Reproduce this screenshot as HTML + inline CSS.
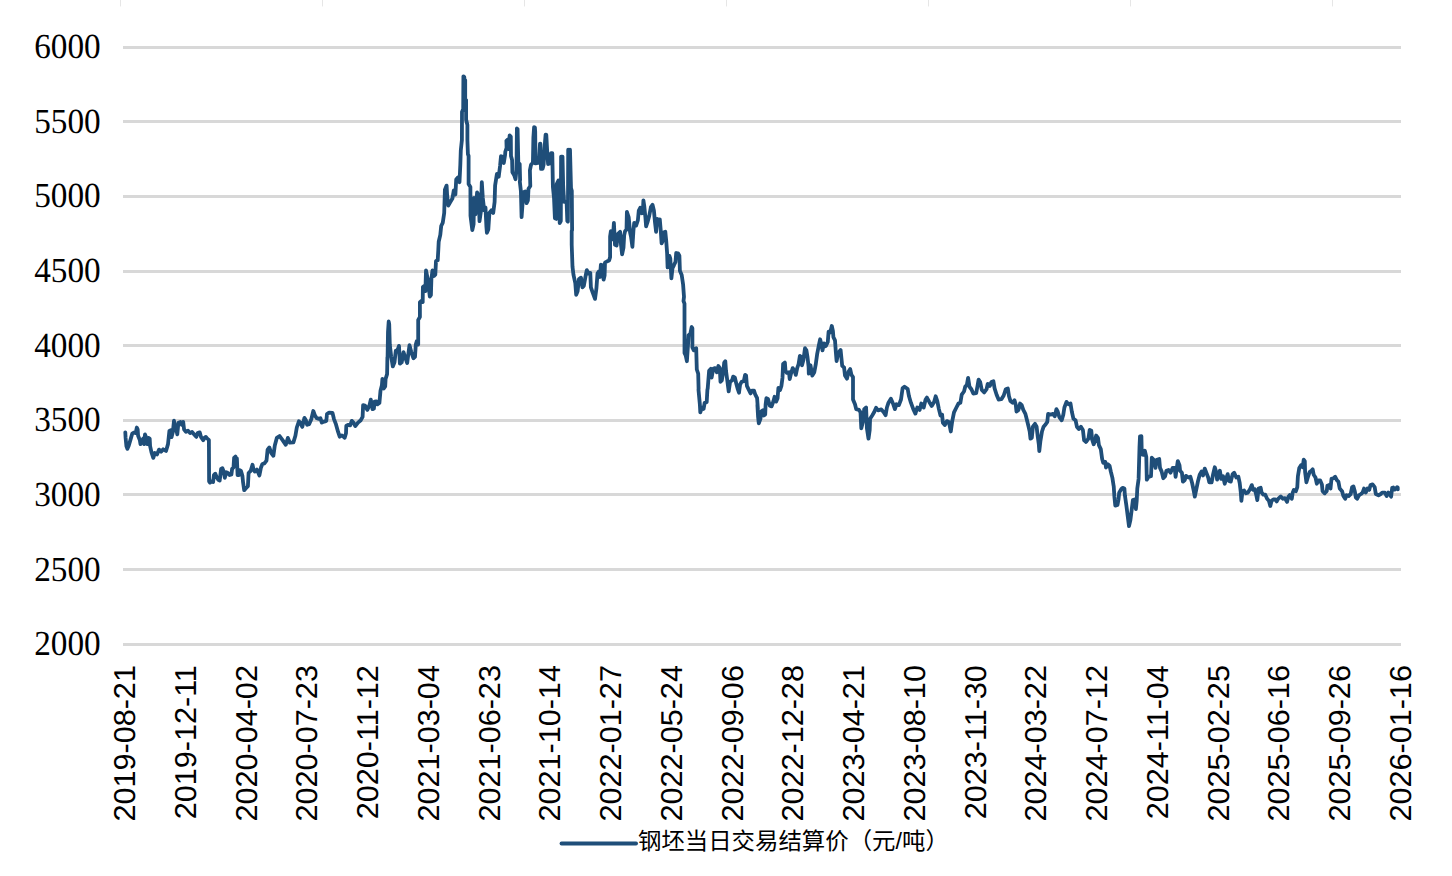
<!DOCTYPE html>
<html lang="zh"><head><meta charset="utf-8"><title>钢坯当日交易结算价（元/吨）</title>
<style>
html,body{margin:0;padding:0;background:#fff;}
body{width:1452px;height:876px;overflow:hidden;}
svg{display:block;}
.yl{text-rendering:geometricPrecision;font-family:"Liberation Serif",serif;font-size:35.2px;fill:#000;text-anchor:end;}
.xl{text-rendering:geometricPrecision;font-family:"Liberation Sans",sans-serif;font-size:30.2px;fill:#000;text-anchor:end;}
</style></head><body>
<svg width="1452" height="876" viewBox="0 0 1452 876">
<rect width="1452" height="876" fill="#ffffff"/>
<g fill="#e6e6e6" shape-rendering="crispEdges">
<rect x="120" y="0" width="1" height="6"/>
<rect x="322" y="0" width="1" height="6"/>
<rect x="524" y="0" width="1" height="6"/>
<rect x="726" y="0" width="1" height="6"/>
<rect x="928" y="0" width="1" height="6"/>
<rect x="1130" y="0" width="1" height="6"/>
<rect x="1332" y="0" width="1" height="6"/>
</g>
<g fill="#e6e6e6" fill-opacity="0.45" shape-rendering="crispEdges">
<rect x="120" y="6" width="1" height="1"/>
<rect x="322" y="6" width="1" height="1"/>
<rect x="524" y="6" width="1" height="1"/>
<rect x="726" y="6" width="1" height="1"/>
<rect x="928" y="6" width="1" height="1"/>
<rect x="1130" y="6" width="1" height="1"/>
<rect x="1332" y="6" width="1" height="1"/>
</g>
<g fill="#d8d8d8" shape-rendering="crispEdges">
<rect x="123" y="46" width="1278" height="3"/>
<rect x="123" y="120" width="1278" height="3"/>
<rect x="123" y="195" width="1278" height="3"/>
<rect x="123" y="270" width="1278" height="3"/>
<rect x="123" y="344" width="1278" height="3"/>
<rect x="123" y="419" width="1278" height="3"/>
<rect x="123" y="493" width="1278" height="3"/>
<rect x="123" y="568" width="1278" height="3"/>
<rect x="123" y="643" width="1278" height="3"/>
</g>
<text class="yl" transform="translate(100.70,57.90) scale(0.9450,1)">6000</text>
<text class="yl" transform="translate(100.70,132.90) scale(0.9450,1)">5500</text>
<text class="yl" transform="translate(100.70,206.90) scale(0.9450,1)">5000</text>
<text class="yl" transform="translate(100.70,281.90) scale(0.9450,1)">4500</text>
<text class="yl" transform="translate(100.70,356.90) scale(0.9450,1)">4000</text>
<text class="yl" transform="translate(100.70,430.90) scale(0.9450,1)">3500</text>
<text class="yl" transform="translate(100.70,505.90) scale(0.9450,1)">3000</text>
<text class="yl" transform="translate(100.70,580.90) scale(0.9450,1)">2500</text>
<text class="yl" transform="translate(100.70,654.90) scale(0.9450,1)">2000</text>
<text class="xl" transform="translate(135.15,665.1) rotate(-90) scale(1.0135,1)">2019-08-21</text>
<text class="xl" transform="translate(195.90,665.1) rotate(-90) scale(1.0135,1)">2019-12-11</text>
<text class="xl" transform="translate(256.64,665.1) rotate(-90) scale(1.0135,1)">2020-04-02</text>
<text class="xl" transform="translate(317.38,665.1) rotate(-90) scale(1.0135,1)">2020-07-23</text>
<text class="xl" transform="translate(378.13,665.1) rotate(-90) scale(1.0135,1)">2020-11-12</text>
<text class="xl" transform="translate(438.88,665.1) rotate(-90) scale(1.0135,1)">2021-03-04</text>
<text class="xl" transform="translate(499.62,665.1) rotate(-90) scale(1.0135,1)">2021-06-23</text>
<text class="xl" transform="translate(560.37,665.1) rotate(-90) scale(1.0135,1)">2021-10-14</text>
<text class="xl" transform="translate(621.11,665.1) rotate(-90) scale(1.0135,1)">2022-01-27</text>
<text class="xl" transform="translate(681.85,665.1) rotate(-90) scale(1.0135,1)">2022-05-24</text>
<text class="xl" transform="translate(742.60,665.1) rotate(-90) scale(1.0135,1)">2022-09-06</text>
<text class="xl" transform="translate(803.34,665.1) rotate(-90) scale(1.0135,1)">2022-12-28</text>
<text class="xl" transform="translate(864.09,665.1) rotate(-90) scale(1.0135,1)">2023-04-21</text>
<text class="xl" transform="translate(924.83,665.1) rotate(-90) scale(1.0135,1)">2023-08-10</text>
<text class="xl" transform="translate(985.58,665.1) rotate(-90) scale(1.0135,1)">2023-11-30</text>
<text class="xl" transform="translate(1046.33,665.1) rotate(-90) scale(1.0135,1)">2024-03-22</text>
<text class="xl" transform="translate(1107.07,665.1) rotate(-90) scale(1.0135,1)">2024-07-12</text>
<text class="xl" transform="translate(1167.82,665.1) rotate(-90) scale(1.0135,1)">2024-11-04</text>
<text class="xl" transform="translate(1228.56,665.1) rotate(-90) scale(1.0135,1)">2025-02-25</text>
<text class="xl" transform="translate(1289.31,665.1) rotate(-90) scale(1.0135,1)">2025-06-16</text>
<text class="xl" transform="translate(1350.05,665.1) rotate(-90) scale(1.0135,1)">2025-09-26</text>
<text class="xl" transform="translate(1410.80,665.1) rotate(-90) scale(1.0135,1)">2026-01-16</text>
<path d="M125.3 432.4 L125.6 437.9 L126.4 446.1 L127.4 448.9 L128.8 445.5 L130.8 438.6 L132.2 433.7 L134.3 432.4 L135.7 433.1 L136.8 427.5 L137.7 429.6 L138.1 435.8 L139.8 439.9 L140.5 444.1 L141.9 441.3 L143.2 438.6 L144.2 444.1 L145.0 434.4 L146.4 437.9 L147.4 444.1 L148.5 437.9 L149.7 438.6 L150.1 446.1 L151.5 452.3 L153.3 457.9 L154.9 453.0 L157.0 454.4 L159.1 449.6 L161.1 451.7 L163.2 449.3 L166.0 451.0 L168.0 444.1 L169.4 431.0 L170.8 430.3 L171.5 437.2 L172.9 431.7 L174.0 420.7 L174.9 426.2 L176.3 429.6 L177.3 434.4 L178.4 422.7 L180.4 422.0 L181.8 424.8 L183.2 422.0 L184.1 429.6 L185.9 431.7 L188.0 430.6 L190.1 433.1 L192.1 432.0 L194.2 434.4 L196.3 436.9 L197.6 433.1 L199.7 432.4 L201.1 437.2 L203.2 440.2 L204.5 437.9 L205.9 436.9 L207.3 438.6 L208.9 439.9 L209.1 481.3 L210.0 482.6 L211.4 481.3 L213.1 482.0 L213.9 475.1 L215.3 473.7 L216.7 477.1 L218.3 479.9 L219.7 480.6 L221.1 468.9 L222.4 468.2 L223.8 471.6 L224.8 477.8 L226.3 472.3 L227.9 473.0 L229.6 475.1 L231.4 474.4 L232.1 468.9 L233.5 467.5 L234.1 457.9 L235.5 456.5 L236.2 464.7 L236.9 458.5 L237.6 475.1 L239.0 475.1 L239.7 470.2 L241.0 470.9 L242.4 475.8 L243.1 482.6 L244.2 490.2 L245.9 488.2 L247.9 486.1 L248.6 473.0 L250.7 470.9 L252.5 464.7 L253.4 468.9 L254.8 471.6 L256.9 469.6 L259.4 475.5 L261.0 467.5 L262.4 464.0 L264.4 463.4 L266.5 460.6 L267.6 449.6 L269.3 447.5 L271.3 453.0 L273.4 455.8 L274.8 445.5 L276.8 437.9 L279.6 436.1 L282.4 439.9 L285.8 444.8 L287.9 437.9 L289.9 442.7 L293.4 442.4 L295.4 435.8 L296.8 427.5 L298.9 421.3 L300.3 422.7 L302.3 426.9 L304.4 417.9 L305.8 420.0 L307.1 424.8 L309.2 424.1 L311.3 419.3 L313.3 411.0 L314.9 415.4 L316.7 418.2 L318.8 418.8 L320.4 418.2 L321.8 422.6 L324.3 421.6 L326.3 420.9 L327.0 414.0 L329.1 412.6 L332.5 412.9 L333.9 418.8 L336.0 424.4 L338.1 431.9 L339.7 436.7 L341.9 435.4 L344.7 437.7 L346.0 433.3 L346.3 425.7 L348.4 424.8 L350.2 425.3 L351.8 420.9 L353.5 422.6 L355.3 426.1 L358.0 422.6 L360.8 420.2 L362.6 416.8 L363.1 405.1 L364.9 405.5 L367.3 409.9 L369.5 405.1 L370.8 399.6 L372.5 409.2 L373.9 408.5 L374.6 401.6 L376.3 401.3 L377.3 404.4 L379.4 403.0 L380.5 390.6 L381.9 385.1 L382.4 378.9 L383.8 388.5 L385.2 386.5 L385.6 378.9 L387.1 374.1 L387.4 357.5 L387.6 356.8 L388.0 332.2 L388.7 321.5 L389.2 324.0 L389.8 344.5 L391.2 356.8 L392.8 366.4 L394.5 362.3 L395.8 350.7 L397.2 351.4 L399.0 345.9 L399.9 363.7 L401.7 362.3 L403.5 352.1 L405.4 358.2 L407.2 363.0 L408.6 352.1 L409.5 345.2 L411.3 352.1 L413.4 358.2 L415.0 356.8 L415.8 344.5 L416.8 341.1 L418.2 344.5 L418.2 319.9 L419.9 317.1 L419.9 302.1 L421.6 300.7 L422.7 302.1 L422.9 287.0 L424.6 285.6 L425.4 291.1 L426.0 270.5 L427.7 278.8 L429.8 296.6 L430.9 295.2 L431.4 278.8 L432.5 270.5 L433.9 276.0 L435.3 274.7 L436.0 261.0 L437.7 260.3 L438.3 250.0 L438.7 241.8 L440.3 234.9 L441.2 226.0 L442.8 222.6 L444.2 213.0 L444.9 189.7 L446.6 185.6 L447.2 196.6 L448.3 205.5 L450.3 202.1 L452.4 198.6 L453.8 190.4 L455.4 194.5 L456.2 179.5 L457.9 177.4 L459.5 182.2 L460.3 165.1 L460.8 150.4 L461.9 140.0 L462.0 112.0 L463.2 109.0 L463.4 76.3 L464.3 77.0 L464.4 79.5 L465.2 80.0 L465.2 99.0 L466.1 100.0 L466.1 119.5 L467.4 125.0 L467.4 140.0 L467.9 154.0 L468.6 156.0 L468.6 184.0 L470.4 187.0 L470.5 215.8 L472.3 230.1 L473.6 224.0 L474.0 197.9 L475.4 214.4 L477.1 192.5 L478.7 195.2 L479.5 221.2 L480.9 211.6 L481.8 182.2 L482.8 197.9 L484.2 210.3 L485.5 207.5 L486.4 226.7 L486.9 232.9 L488.3 229.5 L489.4 213.0 L491.4 210.3 L493.2 213.0 L494.6 202.1 L495.1 185.6 L496.9 174.0 L498.7 176.7 L500.1 165.8 L501.0 156.2 L502.8 156.8 L503.8 163.0 L505.1 154.8 L505.3 151.8 L506.6 147.7 L506.4 140.8 L507.7 139.5 L508.3 149.0 L509.7 135.3 L510.8 136.7 L511.0 155.9 L512.1 160.0 L512.4 172.3 L514.2 175.1 L515.5 179.2 L516.5 169.6 L516.9 128.5 L517.6 129.2 L518.3 162.7 L519.7 164.1 L520.1 180.0 L519.8 181.5 L520.9 191.1 L521.6 217.1 L523.4 192.2 L525.2 191.5 L526.6 203.2 L527.9 200.4 L528.5 188.8 L530.3 186.0 L529.9 170.3 L531.0 164.8 L532.9 162.7 L533.4 137.4 L534.1 127.1 L534.9 127.5 L535.2 131.9 L535.5 163.4 L538.9 162.7 L540.0 143.7 L540.4 143.7 L541.0 168.9 L542.6 168.9 L543.6 164.8 L544.5 148.4 L545.6 134.7 L546.3 134.9 L547.4 155.2 L548.1 164.1 L549.9 163.4 L551.0 153.2 L552.3 153.2 L552.9 186.7 L554.0 197.7 L554.9 218.2 L556.3 218.9 L556.7 184.0 L558.4 180.5 L559.5 205.9 L559.7 223.0 L560.8 221.0 L561.1 156.6 L562.5 156.6 L563.2 186.7 L564.1 201.8 L566.6 201.8 L567.3 221.0 L567.9 221.6 L568.2 149.7 L569.0 186.7 L570.0 149.7 L571.0 188.1 L571.8 190.8 L572.1 230.0 L571.7 231.1 L571.7 244.8 L572.5 266.7 L573.5 274.9 L575.3 283.2 L576.2 294.8 L577.6 291.4 L579.0 279.0 L581.0 277.7 L582.4 287.3 L583.8 285.9 L585.8 274.9 L586.8 270.1 L588.6 273.6 L590.3 272.9 L590.9 287.3 L592.7 292.7 L595.0 298.9 L596.4 288.6 L597.5 273.6 L598.8 271.5 L599.9 277.0 L600.9 264.7 L602.7 265.3 L603.6 279.7 L604.6 275.6 L605.0 262.6 L606.8 261.5 L609.1 260.5 L610.1 257.1 L610.1 236.6 L610.9 231.1 L612.3 236.6 L612.8 239.3 L613.9 222.9 L615.0 244.8 L616.6 245.5 L618.0 233.8 L620.1 231.8 L621.0 244.8 L622.1 254.4 L623.5 247.5 L624.2 235.2 L625.1 231.1 L626.5 229.7 L626.9 211.9 L628.7 217.4 L630.1 232.5 L631.0 236.6 L632.4 246.8 L633.4 231.1 L634.2 222.9 L636.1 225.6 L637.9 220.1 L638.8 210.5 L640.2 207.8 L642.0 213.3 L642.9 210.5 L643.4 200.3 L644.3 206.4 L645.4 217.4 L646.1 226.3 L647.5 222.2 L649.2 216.0 L650.9 207.1 L652.5 204.8 L653.9 210.5 L655.0 222.2 L656.1 231.8 L657.1 218.8 L658.4 222.2 L659.8 219.5 L660.8 231.1 L661.6 243.4 L662.9 240.7 L663.5 232.5 L665.3 231.8 L666.2 240.7 L667.1 253.0 L667.6 267.4 L668.7 266.7 L669.4 255.8 L670.3 258.5 L671.4 278.4 L672.5 268.1 L673.9 265.3 L675.5 261.9 L676.2 253.0 L678.0 253.3 L679.4 255.8 L679.9 270.8 L681.7 274.9 L683.1 284.5 L684.0 296.8 L683.5 301.0 L684.5 303.7 L684.5 353.0 L685.8 355.8 L686.9 361.2 L688.0 344.8 L688.6 335.2 L690.3 333.8 L691.7 327.0 L692.4 328.4 L692.4 347.5 L693.8 350.3 L696.2 348.2 L696.8 369.5 L698.2 373.6 L698.6 388.6 L698.5 389.7 L699.9 404.8 L700.3 412.3 L701.9 407.5 L703.6 408.9 L704.7 402.7 L706.7 402.1 L707.4 389.7 L707.7 388.6 L709.1 370.8 L710.9 368.8 L711.6 377.7 L713.2 368.8 L715.0 368.1 L716.8 372.2 L718.4 366.0 L719.8 368.1 L720.5 381.8 L721.8 380.4 L723.2 372.2 L724.2 362.6 L725.3 361.2 L726.0 370.8 L727.3 380.4 L728.7 391.4 L730.1 381.8 L732.1 380.4 L733.2 376.6 L734.9 377.7 L736.2 383.2 L737.6 388.6 L739.0 392.7 L740.1 384.5 L741.7 381.8 L743.8 381.1 L745.1 374.9 L746.1 375.6 L746.9 385.9 L748.6 389.3 L750.6 393.4 L752.0 390.7 L754.0 390.7 L755.1 394.1 L757.1 398.2 L757.9 409.2 L757.4 404.8 L758.1 417.1 L758.8 423.3 L760.5 418.5 L761.1 411.6 L762.9 410.3 L763.8 415.5 L765.2 414.4 L765.6 404.8 L766.4 398.2 L768.0 398.9 L769.8 405.8 L771.6 406.4 L773.5 401.0 L774.6 396.8 L776.2 401.6 L777.6 398.2 L778.4 387.9 L780.1 390.0 L781.4 385.9 L782.5 377.7 L783.1 364.0 L784.9 362.6 L785.5 370.8 L786.9 372.9 L789.0 372.2 L789.7 379.0 L791.0 373.6 L792.7 368.1 L794.5 370.8 L795.8 374.9 L797.2 368.1 L798.6 364.0 L799.9 355.8 L801.3 357.1 L802.0 365.3 L803.4 359.9 L805.0 348.2 L806.4 350.3 L807.5 357.1 L808.6 366.7 L808.8 373.6 L810.5 365.3 L812.3 375.6 L814.3 372.2 L815.7 364.7 L817.1 354.4 L818.7 346.2 L820.1 339.3 L821.2 343.4 L822.5 350.3 L823.9 343.4 L823.8 346.8 L825.9 346.0 L827.8 342.0 L828.6 331.6 L830.2 332.4 L831.8 326.0 L832.9 330.8 L833.4 337.2 L835.0 340.4 L835.8 351.6 L836.6 361.1 L838.2 353.2 L840.6 350.0 L841.4 357.9 L842.2 365.9 L844.1 367.5 L845.0 375.5 L847.0 378.7 L848.6 371.5 L850.2 369.1 L851.4 374.7 L853.0 377.1 L853.0 399.5 L855.0 404.3 L856.2 409.1 L859.0 409.9 L860.5 412.3 L861.3 428.3 L862.9 421.9 L864.2 409.1 L866.1 407.5 L866.9 428.3 L868.5 438.7 L869.7 429.9 L870.1 418.7 L872.2 415.5 L874.1 412.3 L876.1 407.8 L878.1 410.4 L881.3 409.4 L883.7 412.3 L885.6 415.2 L886.9 407.5 L888.5 402.7 L890.9 398.7 L893.3 404.3 L894.9 409.1 L896.5 404.3 L898.9 405.1 L901.0 399.5 L902.6 388.3 L904.5 386.7 L907.7 389.1 L909.0 396.3 L910.9 402.7 L913.3 409.1 L915.4 413.6 L917.3 407.5 L919.7 409.9 L921.3 403.5 L923.7 407.5 L925.6 399.5 L926.9 397.6 L929.3 401.9 L931.7 405.9 L934.1 401.9 L935.7 396.3 L937.3 401.1 L938.9 409.1 L940.5 415.5 L942.1 414.7 L942.9 422.7 L944.8 425.1 L946.9 421.1 L948.9 421.9 L950.8 431.5 L952.1 421.9 L954.0 412.3 L956.4 407.5 L958.5 403.5 L960.4 402.7 L961.7 394.7 L964.0 391.5 L965.2 386.7 L966.8 385.1 L968.1 377.9 L969.5 386.8 L971.4 389.2 L973.3 393.5 L976.2 393.2 L977.5 386.0 L978.6 379.6 L980.2 382.0 L981.8 390.0 L984.2 392.4 L986.6 389.2 L987.7 383.9 L989.8 386.0 L991.4 382.0 L993.4 381.2 L994.6 388.4 L996.6 394.7 L998.6 399.5 L1001.4 399.2 L1003.7 395.5 L1005.8 389.2 L1007.8 388.4 L1009.0 396.3 L1010.5 401.1 L1012.6 402.7 L1014.5 400.3 L1015.8 405.1 L1016.5 411.5 L1018.5 409.9 L1020.1 403.5 L1021.7 405.1 L1023.3 409.9 L1025.4 413.9 L1027.0 420.3 L1028.6 426.7 L1029.7 431.5 L1030.5 438.7 L1031.8 437.9 L1032.9 426.7 L1035.0 423.8 L1036.6 426.7 L1037.7 436.3 L1038.8 444.3 L1039.3 451.0 L1040.4 441.1 L1042.0 431.5 L1043.6 426.7 L1045.7 424.3 L1047.3 421.9 L1048.1 413.9 L1050.5 414.7 L1052.9 413.9 L1054.8 416.3 L1056.4 409.1 L1057.7 411.5 L1059.3 417.1 L1061.7 420.3 L1063.3 414.7 L1064.4 407.5 L1066.5 401.9 L1068.6 404.3 L1070.5 403.5 L1071.8 411.5 L1073.4 418.7 L1075.6 420.3 L1076.9 426.7 L1078.8 429.1 L1080.9 426.7 L1082.9 429.9 L1084.1 440.3 L1086.1 441.9 L1088.4 438.7 L1089.7 429.9 L1091.3 430.7 L1092.1 439.5 L1093.7 444.3 L1095.3 440.3 L1096.1 435.5 L1098.0 437.9 L1098.9 445.1 L1100.8 449.1 L1102.1 458.7 L1103.2 462.7 L1105.3 461.9 L1106.0 467.5 L1108.0 464.3 L1109.6 465.9 L1110.8 471.5 L1112.4 477.9 L1113.6 485.8 L1113.7 485.8 L1114.4 496.7 L1115.3 505.6 L1117.5 504.9 L1118.5 499.5 L1119.2 492.6 L1121.2 489.2 L1122.6 487.8 L1124.4 488.5 L1124.9 495.3 L1126.3 504.9 L1127.7 515.9 L1129.0 526.2 L1130.4 520.0 L1131.8 509.0 L1132.9 500.1 L1134.5 499.5 L1135.9 509.0 L1136.7 500.8 L1137.3 488.5 L1138.6 478.9 L1139.5 447.4 L1140.0 436.4 L1141.4 436.2 L1141.8 454.2 L1143.6 454.9 L1144.9 450.8 L1146.3 457.0 L1146.8 479.6 L1148.6 476.8 L1151.0 476.2 L1151.8 457.7 L1153.7 459.7 L1155.5 467.9 L1156.8 459.7 L1159.2 459.0 L1160.0 467.9 L1161.6 471.4 L1163.3 478.2 L1165.1 476.2 L1166.4 470.7 L1168.5 470.0 L1170.5 472.7 L1172.6 467.9 L1174.7 467.9 L1175.6 476.8 L1177.0 466.6 L1177.8 461.1 L1179.5 465.2 L1180.1 470.7 L1181.9 472.7 L1182.9 481.6 L1184.7 480.3 L1186.0 475.9 L1188.4 477.5 L1190.4 476.8 L1192.1 483.0 L1193.8 491.2 L1194.8 496.7 L1196.2 489.9 L1197.9 481.6 L1199.7 474.8 L1201.6 471.4 L1203.0 475.5 L1204.8 468.6 L1206.6 473.4 L1208.2 477.5 L1209.3 482.3 L1211.6 482.3 L1213.0 474.8 L1214.8 467.3 L1216.2 472.1 L1217.1 479.6 L1218.5 474.8 L1219.9 470.7 L1221.2 478.9 L1223.0 476.2 L1224.7 483.7 L1226.0 478.9 L1227.7 474.1 L1229.0 481.0 L1230.8 481.6 L1232.6 474.1 L1234.2 472.7 L1236.3 477.5 L1238.4 476.8 L1239.7 483.0 L1240.8 492.6 L1241.4 500.8 L1242.5 491.2 L1244.1 490.5 L1245.9 493.3 L1247.9 492.6 L1250.0 489.2 L1251.8 485.1 L1253.2 489.9 L1254.8 489.2 L1256.2 494.7 L1257.3 500.1 L1258.6 488.5 L1258.6 488.5 L1260.7 487.8 L1261.6 492.6 L1263.4 494.7 L1265.3 494.7 L1267.1 498.8 L1268.9 500.8 L1270.3 506.0 L1271.6 500.8 L1273.3 499.5 L1275.3 499.5 L1276.7 501.5 L1278.1 498.8 L1280.8 496.4 L1282.9 498.8 L1284.9 498.1 L1287.0 501.9 L1288.4 496.7 L1289.7 495.1 L1291.8 498.8 L1292.7 492.6 L1293.8 489.9 L1295.9 491.2 L1297.3 487.1 L1297.9 476.2 L1299.3 467.9 L1301.0 465.2 L1302.7 467.3 L1303.7 459.7 L1304.8 461.1 L1305.1 472.1 L1306.4 482.3 L1307.8 477.5 L1309.6 472.1 L1311.4 470.7 L1312.7 469.3 L1313.7 474.8 L1315.5 477.5 L1316.8 483.7 L1318.5 480.3 L1320.1 480.3 L1321.9 484.4 L1322.6 491.2 L1324.7 493.3 L1326.7 491.2 L1327.4 485.8 L1328.8 485.1 L1330.5 488.5 L1331.5 478.9 L1333.6 478.2 L1335.2 476.8 L1337.0 480.3 L1338.4 481.6 L1339.7 488.5 L1342.1 491.2 L1343.4 496.0 L1345.2 498.8 L1346.6 495.3 L1348.6 496.0 L1350.7 494.0 L1352.1 487.1 L1353.4 486.4 L1354.8 491.2 L1355.8 497.4 L1357.1 498.8 L1358.9 495.3 L1361.0 494.0 L1362.6 492.6 L1364.0 488.5 L1365.8 492.6 L1367.5 488.5 L1369.2 489.9 L1370.5 485.1 L1372.6 484.4 L1374.7 487.1 L1375.8 494.0 L1378.5 495.3 L1380.8 494.0 L1382.2 492.6 L1384.9 492.6 L1386.7 496.0 L1388.4 492.6 L1389.7 494.0 L1391.1 496.7 L1392.2 487.8 L1393.3 487.5 L1394.7 489.6 L1396.0 488.5 L1397.1 487.1 L1397.7 487.4 L1397.8 489.3" fill="none" stroke="#1f4e79" stroke-width="3.8" stroke-linejoin="round" stroke-linecap="round"/>
<line x1="561.5" y1="843.5" x2="636.1" y2="843.5" stroke="#1f4e79" stroke-width="3.8" stroke-linecap="round"/>
<text x="637.9" y="849.3" font-family="&quot;Liberation Sans&quot;, &quot;Noto Sans CJK SC&quot;, sans-serif" font-size="23.2" fill="#000" stroke="none" textLength="311" lengthAdjust="spacingAndGlyphs">钢坯当日交易结算价（元/吨）</text>
</svg>
</body></html>
